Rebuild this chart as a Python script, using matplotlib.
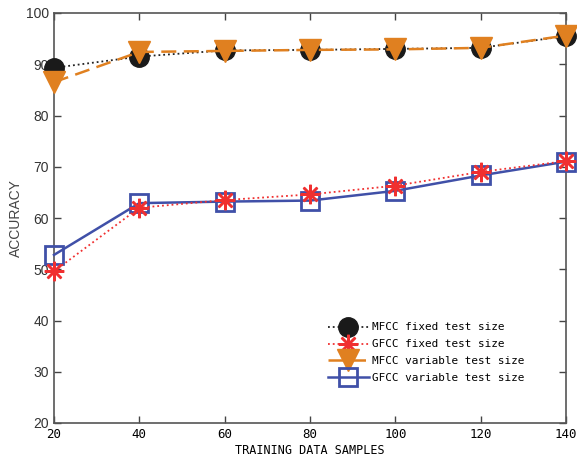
import matplotlib.pyplot as plt

# Data
samples = [20, 40, 60, 80, 100, 120, 140]
mfcc_fixed = [89.3, 91.5, 92.7, 92.8, 93.0, 93.2, 95.5]
gfcc_fixed = [49.6, 62.0, 63.5, 64.6, 66.3, 69.0, 71.1]
mfcc_variable = [86.5, 92.4, 92.6, 92.8, 92.9, 93.2, 95.6]
gfcc_variable = [52.8, 62.9, 63.2, 63.4, 65.3, 68.3, 71.0]

labels = ['MFCC fixed test size', 'GFCC fixed test size',
          'MFCC variable test size', 'GFCC variable test size']

fig = plt.figure(figsize=(5.77, 4.62), dpi=100)
ax = fig.add_axes([54 / 577, 39 / 462, 512 / 577, 410 / 462])

ax.plot(samples, mfcc_fixed, linestyle=':', color='#222222', marker='o',
        markersize=14, markerfacecolor='#1a1a1a', markeredgecolor='#1a1a1a',
        linewidth=1.3, label=labels[0], clip_on=False, zorder=3)
ax.plot(samples, gfcc_fixed, linestyle=':', color='#f03030', marker=(8, 2, 0),
        markersize=14, markeredgecolor='#f03030',
        markeredgewidth=1.8, linewidth=1.3, label=labels[1], clip_on=False, zorder=4)
ax.plot(samples, mfcc_variable, linestyle='--', color='#e08020', marker='v',
        markersize=16, markerfacecolor='#e08020', markeredgecolor='#e08020',
        linewidth=1.8, dashes=(6, 3), label=labels[2], clip_on=False, zorder=4)
ax.plot(samples, gfcc_variable, linestyle='-', color='#4050a8', marker='s',
        markersize=13, markerfacecolor='none', markeredgecolor='#4050a8',
        markeredgewidth=2, linewidth=1.8, label=labels[3], clip_on=False, zorder=3)

ax.set_xlim(20, 140)
ax.set_ylim(20, 100)
ax.set_xticks(samples)
ax.set_yticks(range(20, 101, 10))
ax.tick_params(direction='in', top=True, right=True, length=5, width=1,
               color='#444444')
for lbl in ax.get_xticklabels():
    lbl.set_fontfamily('DejaVu Sans Mono')
    lbl.set_fontsize(9)
for lbl in ax.get_yticklabels():
    lbl.set_fontfamily('Liberation Sans')
    lbl.set_fontsize(10)
    lbl.set_color('#333333')
for s in ax.spines.values():
    s.set_color('#555555')
    s.set_linewidth(1.2)

ax.set_xlabel('TRAINING DATA SAMPLES', fontfamily='DejaVu Sans Mono',
              fontsize=8.5, labelpad=2)
ax.set_ylabel('ACCURACY', fontfamily='Liberation Sans', fontsize=10,
              color='#444444', labelpad=2)

ax.legend(loc='lower left', bbox_to_anchor=(0.535, 0.097), frameon=False,
          prop={'family': 'DejaVu Sans Mono', 'size': 7.9},
          handlelength=3.7, handletextpad=0.3, labelspacing=0.63,
          borderpad=0, borderaxespad=0)

fig.savefig('out.png', dpi=100)
